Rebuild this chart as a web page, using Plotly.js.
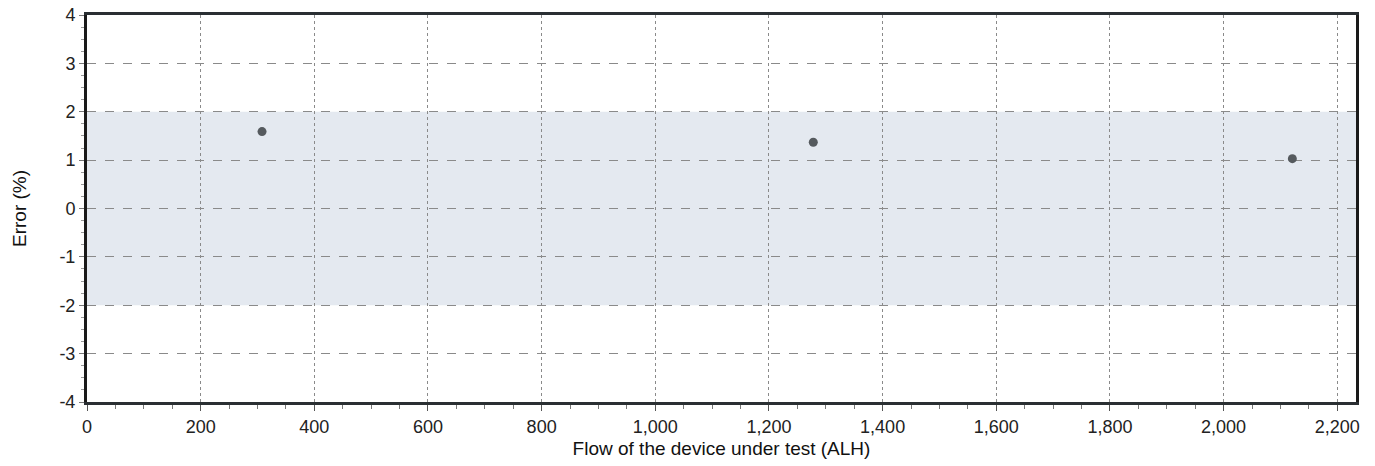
<!DOCTYPE html>
<html>
<head>
<meta charset="utf-8">
<script src="https://cdn.plot.ly/plotly-3.0.1.min.js"></script>
<style>html,body{margin:0;padding:0;background:#fff;}#chart{width:1375px;height:466px;}</style>
</head>
<body>
<div id="chart"></div>
<script>
const flow = [308, 1278, 2121];
const errorPct = [1.59, 1.37, 1.03];
const bandLow = -2;
const bandHigh = 2;
const xTickVals = [0, 200, 400, 600, 800, 1000, 1200, 1400, 1600, 1800, 2000, 2200];
const xTickText = ['0', '200', '400', '600', '800', '1,000', '1,200', '1,400', '1,600', '1,800', '2,000', '2,200'];
const yTickVals = [-4, -3, -2, -1, 0, 1, 2, 3, 4];
const yTickText = ['-4', '-3', '-2', '-1', '0', '1', '2', '3', '4'];

const trace = {
  x: flow, y: errorPct, type: 'scatter', mode: 'markers',
  marker: {color: '#555a5e', size: 9},
  hoverinfo: 'x+y', showlegend: false
};

const layout = {
  width: 1375, height: 466,
  margin: {l: 87, r: 19, t: 15, b: 64},
  paper_bgcolor: '#fff', plot_bgcolor: '#fff',
  font: {family: 'Liberation Sans, Arial, sans-serif', color: '#222', size: 17},
  showlegend: false,
  xaxis: {
    range: [0, 2233], tickvals: xTickVals, ticktext: xTickText,
    showgrid: true, gridcolor: '#8a8a8a', griddash: 'dot', gridwidth: 1,
    zeroline: false, showline: true, linecolor: '#2a2f33', linewidth: 3, mirror: true,
    ticks: 'outside', ticklen: 6, tickcolor: '#555', tickwidth: 1,
    minor: {dtick: 50, tick0: 0, ticks: 'outside', ticklen: 4, tickcolor: '#777', showgrid: false},
    tickfont: {size: 18, color: '#222'},
    title: {text: 'Flow of the device under test (ALH)', font: {size: 19, color: '#111'}, standoff: 7}
  },
  yaxis: {
    range: [-4, 4], tickvals: yTickVals, ticktext: yTickText,
    showgrid: true, gridcolor: '#8a8a8a', griddash: 'dash', gridwidth: 1,
    zeroline: false, showline: true, linecolor: '#1a1a1a', linewidth: 3, mirror: true,
    ticks: 'outside', ticklen: 5, tickcolor: '#777', tickwidth: 1,
    minor: {dtick: 0.25, ticks: 'outside', ticklen: 3, tickcolor: '#999', showgrid: false},
    tickfont: {size: 18, color: '#222'},
    title: {text: 'Error (%)', font: {size: 19, color: '#111'}, standoff: 28}
  },
  shapes: [{
    type: 'rect', xref: 'paper', yref: 'y', x0: 0, x1: 1, y0: bandLow, y1: bandHigh,
    fillcolor: '#e4e9f0', line: {width: 0}, layer: 'below'
  }]
};

Plotly.newPlot('chart', [trace], layout, {displayModeBar: false, staticPlot: true});
</script>
</body>
</html>
